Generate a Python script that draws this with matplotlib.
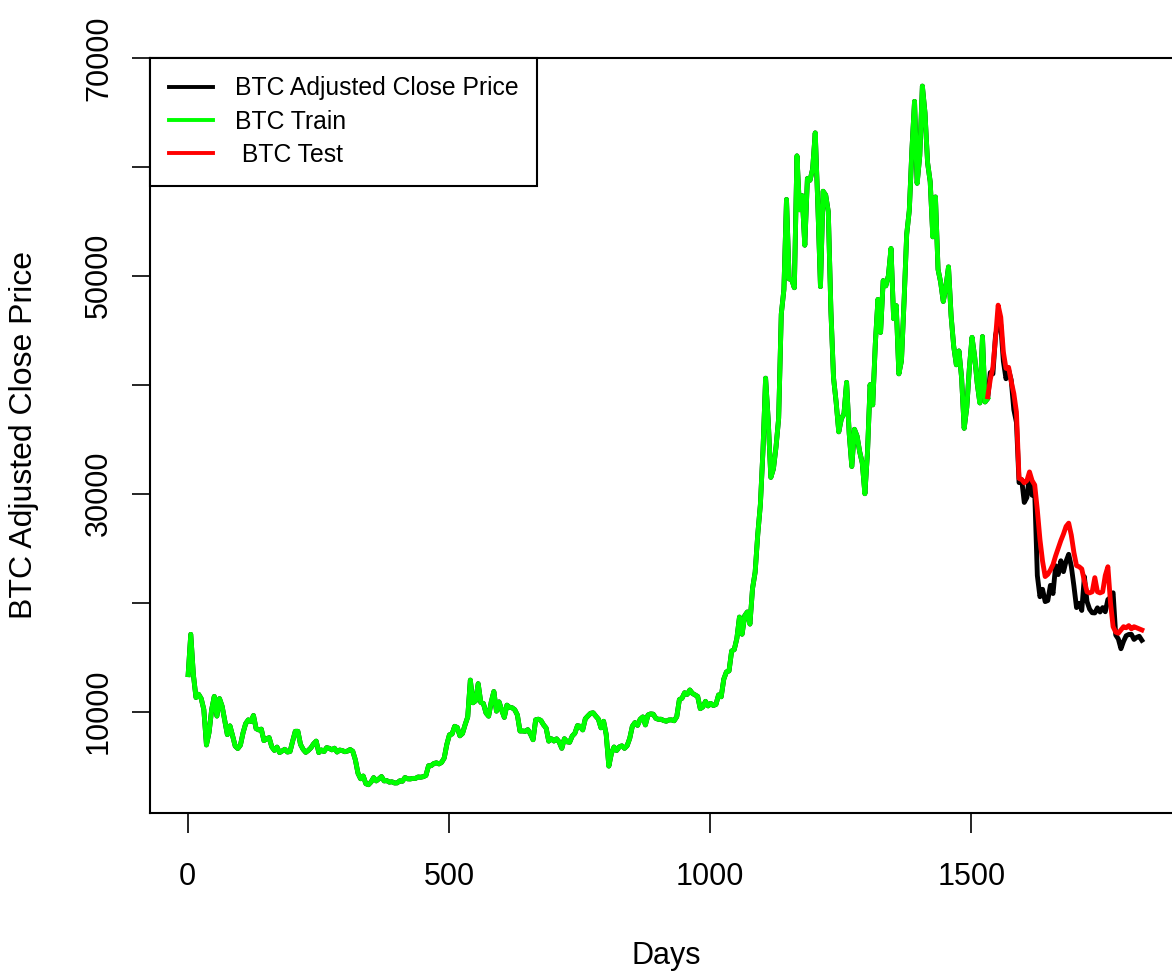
import numpy as np
import matplotlib
matplotlib.use("Agg")
import matplotlib.pyplot as plt
from matplotlib.lines import Line2D

plt.rcParams['font.family'] = ['Liberation Sans', 'DejaVu Sans']

# ---------------- data (BTC adjusted close, sampled every 5 days) ----------------
btc_2018 = [13400, 17100, 13400, 11300, 11600, 11200, 10200,
            6950, 8100, 10200, 11400, 9600,
            11200, 10500, 9200, 7900, 8700, 7800,
            6850, 6620, 6930, 8050, 8900, 9250,
            9100, 9650, 8450, 8330, 8400, 7350, 7500,
            7620, 6780, 6450, 6750, 6250, 6400,
            6550, 6300, 6350, 7300, 8200, 8200,
            7000, 6550, 6270, 6450, 6690, 7050,
            7300, 6250, 6490, 6340, 6700, 6640,
            6500, 6650, 6300, 6480, 6430, 6330,
            6390, 6530, 6370, 5580, 4350, 3850,
            4100, 3400, 3300, 3550, 3950, 3650]
btc_2019 = [3840, 4050, 3650, 3680, 3540, 3570, 3460,
            3470, 3660, 3620, 3960, 3840,
            3830, 3880, 3880, 4010, 3990, 4040,
            4150, 5040, 5050, 5240, 5310, 5210,
            5350, 5750, 7000, 7880, 7950, 8660, 8550,
            7790, 8000, 8810, 9520, 12900, 10820,
            11000, 12570, 10850, 10750, 9880, 9590,
            10900, 11850, 10050, 10900, 10140, 9480,
            10600, 10400, 10360, 10180, 9700, 8230,
            8230, 8200, 8350, 7960, 7430, 9260,
            9310, 9200, 8800, 8500, 7300, 7520,
            7310, 7510, 7220, 6640, 7520, 7240]
btc_2020 = [7200, 7770, 8020, 8720, 8660, 8330, 9350,
            9610, 9850, 9900, 9600, 9320,
            8520, 9120, 7910, 5010, 6180, 6760, 6440,
            6770, 6870, 6640, 6880, 7550, 8660,
            9000, 8750, 9310, 9520, 8790, 9700,
            9800, 9770, 9390, 9300, 9310, 9190,
            9130, 9240, 9250, 9170, 9540, 11110,
            11230, 11740, 11590, 11990, 11680, 11540,
            11400, 10280, 10440, 10950, 10530, 10760,
            10570, 10670, 11540, 11370, 12990, 13650,
            13740, 15570, 15700, 16720, 18680, 17110,
            18800, 19150, 18040, 21310, 22800, 26270, 28990]
btc_2021 = [33990, 40600, 36770, 31500, 32290, 34320,
            36930, 46480, 48720, 57000, 49710,
            49630, 48900, 61000, 56050, 57350, 52800, 58920,
            58760, 59790, 63110, 56470, 49000, 57750,
            57400, 55860, 46760, 40630, 38400, 35680,
            36880, 37340, 40220, 35520, 32500, 35910,
            35290, 33860, 32820, 30000, 33800, 40010,
            38150, 43790, 47830, 44800, 49550, 49070,
            50000, 52500, 46060, 47260, 41000, 42200,
            47690, 53800, 56000, 61550, 66000, 58480,
            61000, 67400, 64950, 60360, 58620, 53570,
            57230, 50580, 49400, 47640, 48940, 50810, 46310]
btc_2022 = [43510, 41830, 43100, 40680, 36000, 37920,
            41570, 44350, 42590, 40120, 38330,
            44420, 38420, 38730, 41120, 41000, 44550, 45540,
            45500, 42160, 40550, 41370, 40430, 37710,
            36550, 31020, 31300, 29200, 29650, 31790,
            29860, 30110, 22490, 20550, 21230, 20100,
            20200, 21590, 20840, 23390, 22580, 23850,
            22850, 23810, 24440, 23340, 21530, 19550,
            19950, 19290, 22390, 20120, 19410, 19080,
            19060, 19530, 19150, 19550, 19170, 20290,
            20490, 20910, 17040, 16670, 15780, 16460,
            16970, 17090, 17100, 16630, 16820, 16920, 16550]

# model prediction on the test period
btc_test_pred = [38900, 40500, 41600, 44300, 47300, 46200,
                 43000, 41500, 41600, 40300, 39200, 37500,
                 31400, 31300, 31000, 31200, 32000, 31200,
                 30800, 28500, 25800, 23800, 22400, 22600,
                 23000, 23500, 24300, 25000, 25700, 26300,
                 27000, 27300, 26200, 24600, 23400, 23300,
                 23100, 22000, 21000, 20900, 21000, 22300,
                 21000, 20900, 21000, 22500, 23300, 20000,
                 17800, 17300, 17200, 17500, 17800, 17700,
                 17900, 17600, 17800, 17700, 17600, 17500]

first_day, last_day, step = 1, 1826, 5
test_start_day = 1531

x_ticks = [0, 500, 1000, 1500]
y_ticks = [10000, 20000, 30000, 40000, 50000, 60000, 70000]
y_tick_labels = ['10000', '', '30000', '', '50000', '', '70000']

legend_labels = ['BTC Adjusted Close Price', 'BTC Train', ' BTC Test']
colors = ['black', '#00FF00', '#FF0000']

# ---------------- build series ----------------
prices = np.array(btc_2018 + btc_2019 + btc_2020 + btc_2021 + btc_2022, dtype=float)
days = np.arange(first_day, last_day + 1, step)
train_mask = days <= test_start_day
test_days = np.arange(test_start_day, last_day + 1, step)
test_pred = np.array(btc_test_pred, dtype=float)

# ---------------- figure ----------------
W, H = 1172, 973
fig = plt.figure(figsize=(W / 100, H / 100), dpi=100)
ax = fig.add_axes([150 / W, (H - 813) / H, (1180 - 150) / W, (813 - 57.7) / H])

lw = 3.5
ax.plot(days, prices, color=colors[0], lw=lw, zorder=2)
ax.plot(days[train_mask], prices[train_mask], color=colors[1], lw=lw, zorder=3)
ax.plot(test_days, test_pred, color=colors[2], lw=lw, zorder=4)

ax.set_xlim(-72, 1899)
ax.set_ylim(706, 70005)

ax.set_xticks(x_ticks)
ax.set_xticklabels([str(v) for v in x_ticks])
ax.set_yticks(y_ticks)
ax.set_yticklabels(y_tick_labels)

for s in ax.spines.values():
    s.set_linewidth(1.5)
ax.tick_params(axis='both', direction='out', width=1.2, labelsize=22, colors='black')
ax.tick_params(axis='x', length=14.4, pad=21)
ax.tick_params(axis='y', length=13, pad=13)
plt.setp(ax.get_yticklabels(), rotation=90, va='center')

fig.text(24 / W, 1 - 435 / H, 'BTC Adjusted Close Price', rotation=90,
         ha='center', va='center', fontsize=23)
fig.text(666 / W, 1 - 956 / H, 'Days', ha='center', va='center', fontsize=22)

handles = [Line2D([0], [0], color=c, lw=2.8) for c in colors]
leg = ax.legend(handles, legend_labels, loc='upper left', bbox_to_anchor=(0, 1),
                borderaxespad=0, frameon=True, fancybox=False, edgecolor='black',
                framealpha=1, fontsize=17.8, handlelength=1.8, handletextpad=0.88,
                borderpad=0.75, labelspacing=0.38)
leg.get_frame().set_linewidth(1.5)

fig.savefig('out.png', dpi=100)
